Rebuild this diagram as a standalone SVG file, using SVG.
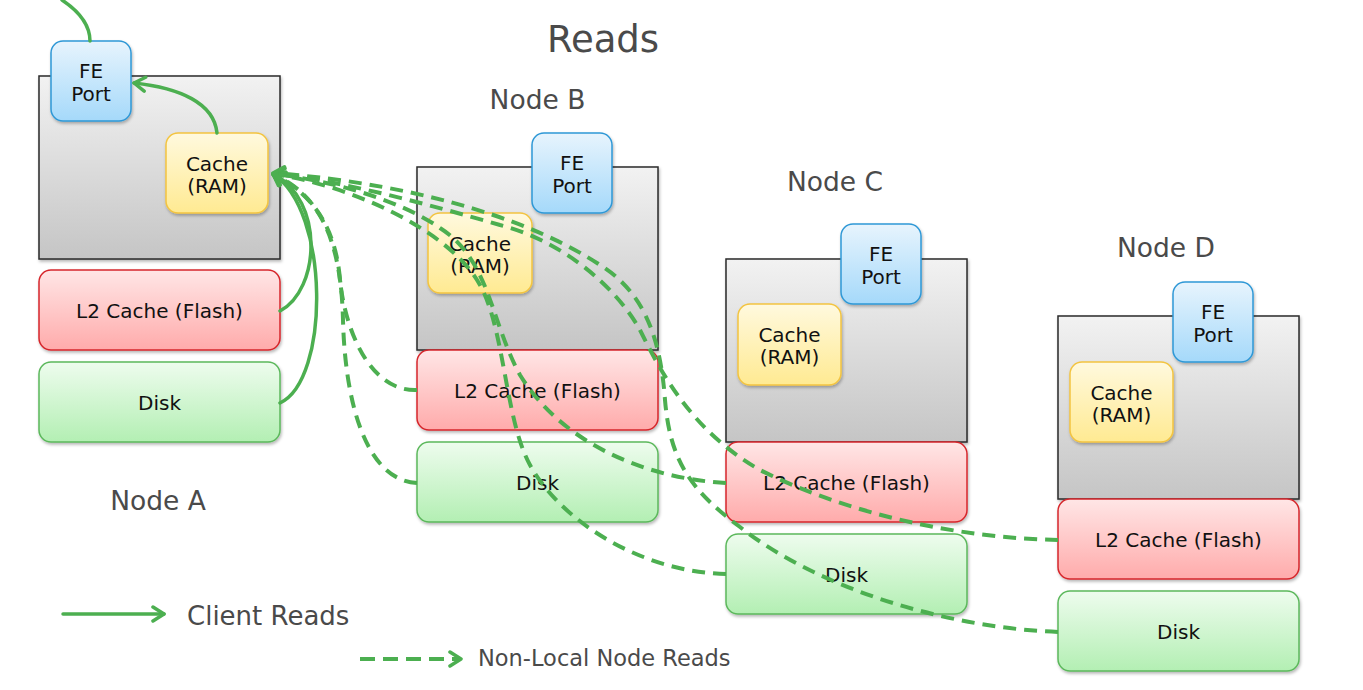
<svg xmlns="http://www.w3.org/2000/svg" width="1363" height="690" viewBox="0 0 1363 690">
<defs>
<linearGradient id="gGray" x1="0" y1="0" x2="0" y2="1"><stop offset="0" stop-color="#f2f2f2"/><stop offset="1" stop-color="#c5c5c5"/></linearGradient>
<linearGradient id="gBlue" x1="0" y1="0" x2="0" y2="1"><stop offset="0" stop-color="#e7f4fd"/><stop offset="1" stop-color="#a5d9fa"/></linearGradient>
<linearGradient id="gYellow" x1="0" y1="0" x2="0" y2="1"><stop offset="0" stop-color="#fff9de"/><stop offset="1" stop-color="#ffea92"/></linearGradient>
<linearGradient id="gRed" x1="0" y1="0" x2="0" y2="1"><stop offset="0" stop-color="#ffe6e6"/><stop offset="1" stop-color="#ffabab"/></linearGradient>
<linearGradient id="gGreen" x1="0" y1="0" x2="0" y2="1"><stop offset="0" stop-color="#eefcee"/><stop offset="1" stop-color="#b3efb3"/></linearGradient>
<filter id="sh" x="-10%" y="-10%" width="125%" height="130%"><feDropShadow dx="1" dy="2" stdDeviation="1.5" flood-color="#000" flood-opacity="0.28"/></filter>
<marker id="arr" viewBox="0 0 16 18" refX="14" refY="9" markerWidth="16" markerHeight="18" markerUnits="userSpaceOnUse" orient="auto">
<path d="M3,2 L14,9 L3,16" fill="none" stroke="#4caf50" stroke-width="3.5" stroke-linecap="round" stroke-linejoin="round"/>
</marker>
<style>
.gray{fill:url(#gGray);stroke:#2a2a2a;stroke-width:1.5;filter:url(#sh)}
.fe{fill:url(#gBlue);stroke:#2f98d6;stroke-width:1.5;filter:url(#sh)}
.cache{fill:url(#gYellow);stroke:#f3c440;stroke-width:1.5;filter:url(#sh)}
.l2{fill:url(#gRed);stroke:#d6262c;stroke-width:1.5;filter:url(#sh)}
.disk{fill:url(#gGreen);stroke:#5cb85c;stroke-width:1.5;filter:url(#sh)}
.t{font-family:"DejaVu Sans",Verdana,sans-serif;font-size:20px;fill:#111;text-anchor:middle}
.lbl{font-family:"DejaVu Sans",Verdana,sans-serif;font-size:26.5px;fill:#4a4a4a;text-anchor:middle}
.solid{fill:none;stroke:#4caf50;stroke-width:3.5;stroke-linecap:round}
.dash{fill:none;stroke:#4caf50;stroke-width:4;stroke-dasharray:13 8}
</style>
</defs>
<rect width="1363" height="690" fill="#ffffff"/>

<text x="603" y="52" class="lbl" style="font-size:37px">Reads</text>

<g id="nodeA">
<rect class="gray" x="39" y="76" width="241" height="183"/>
<g id="nodeA-l2"><rect class="l2" x="39" y="270" width="241" height="80" rx="12"/><text class="t" x="159.5" y="318">L2 Cache (Flash)</text></g>
<g id="nodeA-disk"><rect class="disk" x="39" y="362" width="241" height="80" rx="12"/><text class="t" x="159.5" y="410">Disk</text></g>
<g id="nodeA-cache"><rect class="cache" x="166" y="133" width="102" height="80" rx="12"/><text class="t" x="217" y="171">Cache</text><text class="t" x="217" y="193">(RAM)</text></g>
<g id="nodeA-fe"><rect class="fe" x="51" y="41" width="80" height="80" rx="12"/><text class="t" x="91" y="78">FE</text><text class="t" x="91" y="101">Port</text></g>
<text class="lbl" x="158" y="510">Node A</text>
</g>

<g id="nodeB">
<rect class="gray" x="417" y="167" width="241" height="183"/>
<g id="nodeB-l2"><rect class="l2" x="417" y="350" width="241" height="80" rx="12"/><text class="t" x="537.5" y="398">L2 Cache (Flash)</text></g>
<g id="nodeB-disk"><rect class="disk" x="417" y="442" width="241" height="80" rx="12"/><text class="t" x="537.5" y="490">Disk</text></g>
<g id="nodeB-cache"><rect class="cache" x="428" y="213" width="104" height="80" rx="12"/><text class="t" x="480" y="251">Cache</text><text class="t" x="480" y="273">(RAM)</text></g>
<g id="nodeB-fe"><rect class="fe" x="532" y="133" width="80" height="80" rx="12"/><text class="t" x="572" y="170">FE</text><text class="t" x="572" y="193">Port</text></g>
<text class="lbl" x="537.5" y="109">Node B</text>
</g>

<g id="nodeC">
<rect class="gray" x="726" y="259" width="241" height="183"/>
<g id="nodeC-l2"><rect class="l2" x="726" y="442" width="241" height="80" rx="12"/><text class="t" x="846.5" y="490">L2 Cache (Flash)</text></g>
<g id="nodeC-disk"><rect class="disk" x="726" y="534" width="241" height="80" rx="12"/><text class="t" x="846.5" y="582">Disk</text></g>
<g id="nodeC-cache"><rect class="cache" x="738" y="304" width="103" height="81" rx="12"/><text class="t" x="789.5" y="342">Cache</text><text class="t" x="789.5" y="364">(RAM)</text></g>
<g id="nodeC-fe"><rect class="fe" x="841" y="224" width="80" height="80" rx="12"/><text class="t" x="881" y="261">FE</text><text class="t" x="881" y="284">Port</text></g>
<text class="lbl" x="835" y="191">Node C</text>
</g>

<g id="nodeD">
<rect class="gray" x="1058" y="316" width="241" height="183"/>
<g id="nodeD-l2"><rect class="l2" x="1058" y="499" width="241" height="80" rx="12"/><text class="t" x="1178.5" y="547">L2 Cache (Flash)</text></g>
<g id="nodeD-disk"><rect class="disk" x="1058" y="591" width="241" height="80" rx="12"/><text class="t" x="1178.5" y="639">Disk</text></g>
<g id="nodeD-cache"><rect class="cache" x="1070" y="362" width="103" height="80" rx="12"/><text class="t" x="1121.5" y="400">Cache</text><text class="t" x="1121.5" y="422">(RAM)</text></g>
<g id="nodeD-fe"><rect class="fe" x="1173" y="282" width="80" height="80" rx="12"/><text class="t" x="1213" y="319">FE</text><text class="t" x="1213" y="342">Port</text></g>
<text class="lbl" x="1166" y="257">Node D</text>
</g>

<g id="connectors">
<path class="solid" d="M62,0 C80,12 90,25 90,41"/>
<path class="solid" d="M217,133 C214,103 180,88 134,83" marker-end="url(#arr)"/>
<path class="solid" d="M280,311 C320,290 325,200 273,174" marker-end="url(#arr)"/>
<path class="solid" d="M280,403 C330,380 330,210 273,174" marker-end="url(#arr)"/>
<path class="dash" d="M417,390 C370,392 345,330 340,280 C336,230 315,195 273,174" marker-end="url(#arr)"/>
<path class="dash" d="M417,483 C365,480 345,400 343,320 C341,240 320,195 273,174" marker-end="url(#arr)"/>
<path class="dash" d="M726,483 C640,478 560,440 520,375 C490,320 490,260 440,228 C400,200 330,180 273,174" marker-end="url(#arr)"/>
<path class="dash" d="M726,574 C640,572 560,520 530,465 C505,420 505,330 480,285 C450,230 350,185 273,174" marker-end="url(#arr)"/>
<path class="dash" d="M1058,540 C960,538 850,515 760,470 C690,430 660,370 640,330 C615,285 560,240 500,225 C430,205 340,180 273,174" marker-end="url(#arr)"/>
<path class="dash" d="M1058,632 C950,628 820,590 740,527 C690,490 670,460 665,400 C660,330 640,290 600,265 C540,225 430,185 273,173" marker-end="url(#arr)"/>
</g>

<g id="legend">
<path class="solid" d="M63,614 L164,614" marker-end="url(#arr)"/>
<text x="187" y="625" style="font-family:'DejaVu Sans',Verdana,sans-serif;font-size:26px;fill:#4a4a4a">Client Reads</text>
<path class="dash" d="M360,659 L461,659" style="stroke-dasharray:15 8" marker-end="url(#arr)"/>
<text x="478" y="666" style="font-family:'DejaVu Sans',Verdana,sans-serif;font-size:22.5px;fill:#4a4a4a">Non-Local Node Reads</text>
</g>
</svg>
